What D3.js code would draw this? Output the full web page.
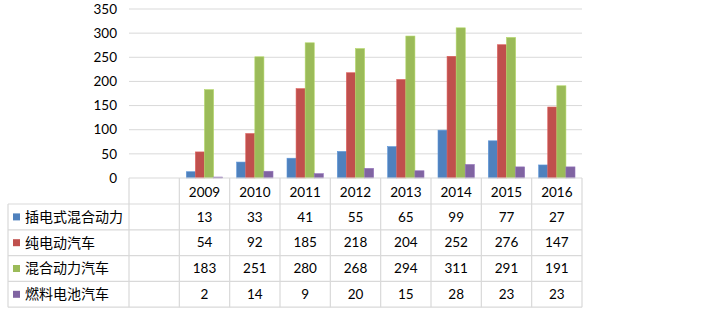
<!DOCTYPE html>
<meta charset="utf-8" />
<title>新能源汽车</title>
<style>
  body { margin: 0; background: #fff; }
  text { font-family: Lato, "Noto Sans CJK SC", sans-serif; font-size: 13.5px; fill: #000; }
  .cjk { font-family: "Noto Sans CJK SC", sans-serif; font-size: 14px; }
  line.grid { stroke: #d9d9d9; stroke-width: 1; }
  line.cell { stroke: #d9d9d9; stroke-width: 1.2; }
</style>
<body>
<svg width="722" height="312"></svg>
<script src="https://d3js.org/d3.v7.min.js"></script>
<script>
  const years = ["", "2009", "2010", "2011", "2012", "2013", "2014", "2015", "2016"];
  const seriesNames = ["插电式混合动力", "纯电动汽车", "混合动力汽车", "燃料电池汽车"];
  const plugIn = [null, 13, 33, 41, 55, 65, 99, 77, 27];
  const electric = [null, 54, 92, 185, 218, 204, 252, 276, 147];
  const hybrid = [null, 183, 251, 280, 268, 294, 311, 291, 191];
  const fuelCell = [null, 2, 14, 9, 20, 15, 28, 23, 23];
  const colors = ["#4f81bd", "#c0504d", "#9bbb59", "#8064a2"];
  const yTicks = [0, 50, 100, 150, 200, 250, 300, 350];

  const series = [plugIn, electric, hybrid, fuelCell];
  const svg = d3.select("svg");

  const x = d3.scaleBand().domain(years).range([129, 582]);
  const sub = d3.scaleBand().domain(d3.range(4)).range([7, x.bandwidth() - 7]);
  const y = d3.scaleLinear().domain([0, 350]).range([178, 9]);

  // gridlines
  svg.append("g").selectAll("line").data(yTicks.slice(1)).join("line")
    .attr("class", "grid")
    .attr("x1", 129).attr("x2", 582)
    .attr("y1", d => y(d)).attr("y2", d => y(d));

  // y axis labels
  svg.append("g").selectAll("text").data(yTicks).join("text")
    .attr("x", 117).attr("y", d => y(d))
    .attr("text-anchor", "end").attr("dy", "0.35em")
    .text(d => d);

  // bars
  series.forEach((vals, i) => {
    svg.append("g").selectAll("rect")
      .data(years.map((yr, j) => ({ yr, v: vals[j] })).filter(d => d.v !== null))
      .join("rect")
      .attr("x", d => x(d.yr) + sub(i))
      .attr("width", sub.bandwidth())
      .attr("y", d => y(d.v))
      .attr("height", d => y(0) - y(d.v))
      .attr("fill", colors[i])
      .attr("stroke", d3.color(colors[i]).brighter(0.4))
      .attr("stroke-width", 0.6);
  });

  // data table
  const rowTop = 178, headH = 26, rowH = 25.8;
  const rowY = i => rowTop + headH + i * rowH;
  const tableBottom = rowY(4);
  const t = svg.append("g");

  // horizontal borders
  t.append("line").attr("class", "cell")
    .attr("x1", 129).attr("x2", 582).attr("y1", rowTop).attr("y2", rowTop);
  d3.range(5).forEach(i => {
    t.append("line").attr("class", "cell")
      .attr("x1", 8).attr("x2", 582).attr("y1", rowY(i)).attr("y2", rowY(i));
  });
  // vertical borders
  t.append("line").attr("class", "cell")
    .attr("x1", 8).attr("x2", 8).attr("y1", rowY(0)).attr("y2", tableBottom);
  t.selectAll("line.v").data(years.concat(["end"])).join("line")
    .attr("class", "cell v")
    .attr("x1", (d, j) => 129 + j * x.bandwidth())
    .attr("x2", (d, j) => 129 + j * x.bandwidth())
    .attr("y1", rowTop).attr("y2", tableBottom);

  // header years
  t.selectAll("text.yr").data(years.slice(1)).join("text")
    .attr("class", "yr")
    .attr("x", d => x(d) + x.bandwidth() / 2)
    .attr("y", rowTop + headH / 2 + 1)
    .attr("text-anchor", "middle").attr("dy", "0.35em")
    .text(d => d);

  // row labels and values
  seriesNames.forEach((name, i) => {
    const cy = rowY(i) + rowH / 2;
    t.append("rect").attr("x", 13).attr("y", cy - 3.5)
      .attr("width", 7).attr("height", 7).attr("fill", colors[i]);
    t.append("text").attr("class", "cjk")
      .attr("x", 25).attr("y", cy).attr("dy", "0.35em").text(name);
    t.append("g").selectAll("text")
      .data(years.map((yr, j) => ({ yr, v: series[i][j] })).filter(d => d.v !== null))
      .join("text")
      .attr("x", d => x(d.yr) + x.bandwidth() / 2)
      .attr("y", cy).attr("dy", "0.35em")
      .attr("text-anchor", "middle")
      .text(d => d.v);
  });
</script>
</body>
